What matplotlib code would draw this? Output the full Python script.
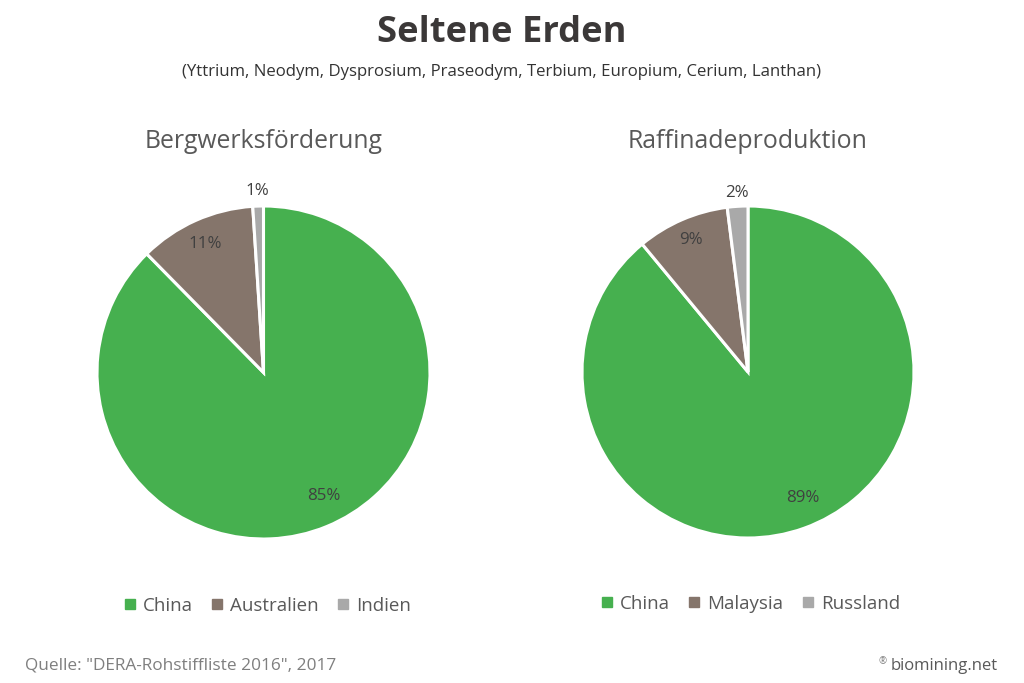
import matplotlib
matplotlib.use("Agg")
import matplotlib.pyplot as plt
from matplotlib.lines import Line2D

plt.rcParams['font.family'] = ['Open Sans', 'DejaVu Sans']

left_labels = ["China", "Australien", "Indien"]
left_values = [85, 11, 1]
left_pcts = ["85%", "11%", "1%"]
right_labels = ["China", "Malaysia", "Russland"]
right_values = [89, 9, 2]
right_pcts = ["89%", "9%", "2%"]
colors = ["#46B04F", "#85756B", "#A9A9A9"]
W, H = 1024, 683

fig = plt.figure(figsize=(W/100, H/100), dpi=100, facecolor="white")

def axes_at(cx, cy, r):
    return fig.add_axes([(cx-r)/W, 1-(cy+r)/H, 2*r/W, 2*r/H])

def draw(cx, cy, r, values, pcts, pos):
    ax = axes_at(cx, cy, r)
    ax.pie(values, colors=colors, startangle=90, counterclock=False, radius=1,
           wedgeprops=dict(edgecolor="white", linewidth=2.2))
    ax.set_xlim(-1, 1); ax.set_ylim(-1, 1)
    ax.set_aspect("equal"); ax.axis("off")
    for t, (x, y) in zip(pcts, pos):
        fig.text(x/W, 1-y/H, t, ha="center", va="center", fontsize=12.2, color="#404040")

draw(263.5, 372.5, 166.5, left_values, left_pcts, [(324, 496), (205, 244), (257, 191)])
draw(748, 372, 166, right_values, right_pcts, [(803, 498), (691, 240), (737, 193)])

fig.text(502/W, 1-33/H, "Seltene Erden", ha="center", va="center", fontsize=26.2, fontweight="bold", color="#3B3838")
fig.text(502/W, 1-72/H, "(Yttrium, Neodym, Dysprosium, Praseodym, Terbium, Europium, Cerium, Lanthan)",
         ha="center", va="center", fontsize=12.1, color="#333333")
fig.text(264/W, 1-142/H, "Bergwerksförderung", ha="center", va="center", fontsize=17.8, color="#595959")
fig.text(748/W, 1-142/H, "Raffinadeproduktion", ha="center", va="center", fontsize=17.9, color="#595959")

def legend(cx, cy, labels):
    h = [Line2D([], [], marker="s", ls="", ms=6.8, color=c) for c in colors]
    fig.legend(h, labels, loc="center", bbox_to_anchor=(cx/W, 1-cy/H), ncol=3, frameon=False,
               fontsize=13.5, labelcolor="#595959", handlelength=0.5, handletextpad=0.45,
               columnspacing=1.05, borderpad=0, borderaxespad=0)

legend(268, 606, left_labels)
legend(751, 604, right_labels)

fig.text(25/W, 1-666/H, 'Quelle: "DERA-Rohstiffliste 2016", 2017', ha="left", va="center", fontsize=12.4, color="#7F7F7F")
fig.text(998/W, 1-666/H, "biomining.net", ha="right", va="center", fontsize=12, color="#595959")
fig.text(883/W, 1-662/H, "®", ha="center", va="center", fontsize=7, color="#7F7F7F")

fig.savefig("out.png", dpi=100)
